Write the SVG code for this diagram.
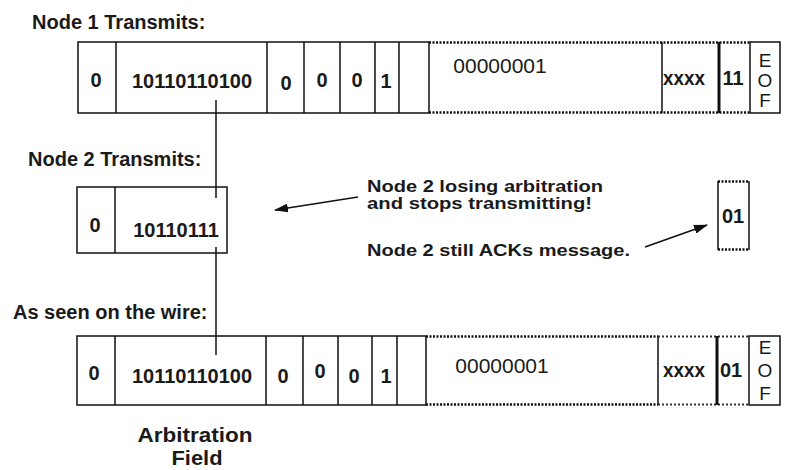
<svg xmlns="http://www.w3.org/2000/svg" width="786" height="470" viewBox="0 0 786 470">
  <defs>
    <marker id="head" viewBox="0 0 14 9" refX="13" refY="4.5" markerWidth="14" markerHeight="9" markerUnits="userSpaceOnUse" orient="auto">
      <path d="M0,0 L14,4.5 L0,9 Z" fill="#111"/>
    </marker>
  </defs>
  <style>
    text { font-family: "Liberation Sans", Arial, sans-serif; fill: #1a1a1a; }
    .lbl { font-size: 20px; font-weight: bold; }
    .bit { font-size: 20px; font-weight: bold; text-anchor: middle; }
    .reg { font-size: 21px; text-anchor: middle; }
    .eof { font-size: 19px; text-anchor: middle; }
    .note { font-size: 16px; font-weight: bold; }
    .cap { font-size: 20px; font-weight: bold; text-anchor: middle; }
    .box { fill: none; stroke: #111; stroke-width: 1.5; }
    .thick { fill: none; stroke: #111; stroke-width: 3; }
    .dot { fill: none; stroke: #111; stroke-width: 2.5; stroke-dasharray: 2 1.5; }
    .dotl { fill: none; stroke: #333; stroke-width: 1.8; stroke-dasharray: 2 2; }
    .wire { fill: none; stroke: #111; stroke-width: 1.5; }
  </style>
  <rect width="786" height="470" fill="#fff"/>

  <!-- row titles -->
  <text class="lbl" x="32" y="29">Node 1 Transmits:</text>
  <text class="lbl" x="28" y="166">Node 2 Transmits:</text>
  <text class="lbl" x="13" y="319">As seen on the wire:</text>

  <!-- frame sent by node 1 -->
  <g id="node1-frame">
    <path class="box" d="M429,42 H78 V113 H429 Z M116,42 V113 M267,42 V113 M304,42 V113 M340,42 V113 M375,42 V113 M399,42 V113 M662,42 V113"/>
    <path class="dot" d="M429,42.5 H750 M429,112.5 H750"/>
    <path class="thick" d="M719,42 V113"/>
    <rect class="box" x="750" y="42" width="30" height="71"/>
    <text class="bit" x="96" y="87">0</text>
    <text class="bit" x="192" y="88">10110110100</text>
    <text class="bit" x="286" y="90">0</text>
    <text class="bit" x="322" y="87">0</text>
    <text class="bit" x="357" y="87">0</text>
    <text class="bit" x="386" y="88">1</text>
    <text class="reg" x="500" y="73">00000001</text>
    <text class="bit" x="684" y="85" textLength="42" lengthAdjust="spacingAndGlyphs">xxxx</text>
    <text class="bit" x="733" y="85">11</text>
    <text class="eof" x="765" y="67">E</text>
    <text class="eof" x="765" y="87">O</text>
    <text class="eof" x="765" y="107">F</text>
  </g>

  <!-- frame started by node 2 -->
  <g id="node2-frame">
    <rect class="box" x="77" y="187" width="150" height="66"/>
    <path class="box" d="M115,187 V253"/>
    <text class="bit" x="95" y="232">0</text>
    <text class="bit" x="176" y="237">10110111</text>
  </g>

  <!-- ACK slot driven by node 2 -->
  <g id="node2-ack">
    <path class="box" d="M718,181 V250 M749,181 V250"/>
    <path class="dot" d="M718,181.5 H749 M718,249.5 H749"/>
    <text class="bit" x="733" y="223">01</text>
  </g>

  <!-- resulting frame on the bus -->
  <g id="wire-frame">
    <path class="box" d="M426,336 H77 V405 H426 Z M115,336 V405 M266,336 V405 M303,336 V405 M338,336 V405 M372,336 V405 M397,336 V405 M658,336 V405"/>
    <path class="dot" d="M426,336.5 H658 M426,404.5 H658"/>
    <path class="dotl" d="M658,336.5 H748 M658,404.5 H748"/>
    <path class="thick" d="M717,336 V405"/>
    <rect class="box" x="749" y="336" width="31" height="69"/>
    <text class="bit" x="94" y="380">0</text>
    <text class="bit" x="192" y="383">10110110100</text>
    <text class="bit" x="283" y="383">0</text>
    <text class="bit" x="320" y="378">0</text>
    <text class="bit" x="354" y="383">0</text>
    <text class="bit" x="386" y="383">1</text>
    <text class="reg" x="502" y="373">00000001</text>
    <text class="bit" x="684" y="377" textLength="42" lengthAdjust="spacingAndGlyphs">xxxx</text>
    <text class="bit" x="731" y="377">01</text>
    <text class="eof" x="765" y="354">E</text>
    <text class="eof" x="765" y="377">O</text>
    <text class="eof" x="765" y="400">F</text>
  </g>

  <!-- notes -->
  <g id="notes">
    <text class="note" x="367" y="192" textLength="236" lengthAdjust="spacingAndGlyphs">Node 2 losing arbitration</text>
    <text class="note" x="367" y="209" textLength="225" lengthAdjust="spacingAndGlyphs">and stops transmitting!</text>
    <text class="note" x="367" y="256" textLength="263" lengthAdjust="spacingAndGlyphs">Node 2 still ACKs message.</text>
    <text class="cap" x="195" y="442" textLength="115" lengthAdjust="spacingAndGlyphs">Arbitration</text>
    <text class="cap" x="197" y="465" textLength="51" lengthAdjust="spacingAndGlyphs">Field</text>
  </g>

  <!-- connectors -->
  <g id="connectors">
    <path class="wire" d="M216,100 V198 M216,247 V355"/>
    <line class="wire" x1="358" y1="197" x2="275" y2="210" marker-end="url(#head)"/>
    <line class="wire" x1="645" y1="247" x2="707" y2="225" marker-end="url(#head)"/>
  </g>
</svg>
